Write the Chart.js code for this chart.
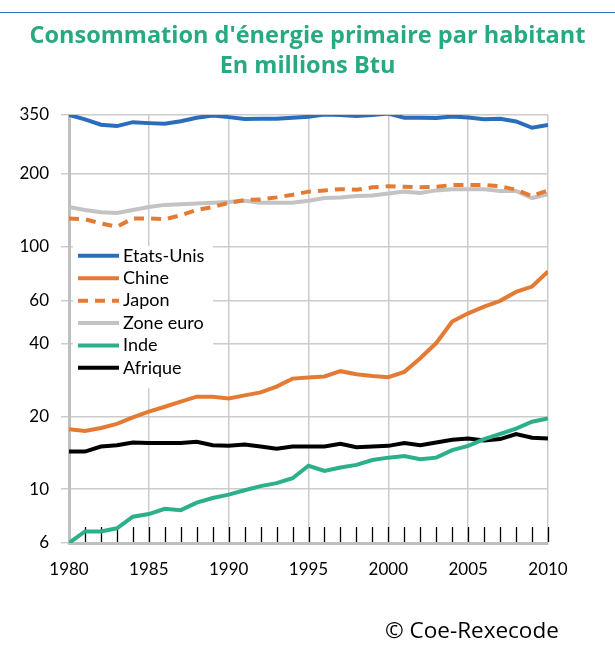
<!DOCTYPE html>
<html>
<head>
<meta charset="utf-8">
<script src="https://cdn.jsdelivr.net/npm/chart.js@4"></script>
<style>
  body { margin: 0; background: #fff; }
  #wrap { position: relative; width: 615px; height: 653px; }
  #topline { position: absolute; left: 0; top: 12px; width: 615px; height: 1px; background: #2f74c0; }
  #title { position: absolute; left: 0; top: 19px; width: 615px; text-align: center;
           font: bold 23.5px "Open Sans", sans-serif; line-height: 30px; color: #27a982; }
  #credit { position: absolute; left: 385px; top: 614px; font: 22.5px "Open Sans", sans-serif; color: #000; }
</style>
</head>
<body>
<div id="wrap">
  <canvas id="chart" width="615" height="653"></canvas>
  <div id="topline"></div>
  <div id="title">Consommation d'énergie primaire par habitant<br>En millions Btu</div>
  <div id="credit">© Coe-Rexecode</div>
</div>
<script>
const years = [1980, 1981, 1982, 1983, 1984, 1985, 1986, 1987, 1988, 1989,
               1990, 1991, 1992, 1993, 1994, 1995, 1996, 1997, 1998, 1999,
               2000, 2001, 2002, 2003, 2004, 2005, 2006, 2007, 2008, 2009, 2010];

const etatsUnis = [350, 336, 319, 315, 327, 324, 322, 330, 341, 348,
                   343, 337, 338, 338, 341, 344, 352, 350, 347, 350,
                   355, 341, 341, 340, 345, 342, 336, 338, 329, 310, 318];
const chine = [17.7, 17.4, 17.9, 18.6, 19.8, 20.9, 21.9, 23.0, 24.1, 24.1,
               23.7, 24.4, 25.1, 26.5, 28.6, 28.9, 29.2, 30.7, 29.8, 29.3,
               29.0, 30.5, 34.7, 40.1, 49.2, 53.2, 56.7, 59.9, 65.2, 68.6, 79.1];
const japon = [131, 130, 125, 121, 131, 131, 130, 135, 142, 146,
               152, 156, 157, 160, 164, 169, 171, 173, 172, 176,
               178, 177, 176, 177, 180, 180, 180, 178, 172, 162, 171];
const zoneEuro = [146, 142, 139, 138, 142, 146, 149, 150, 151, 152,
                  153, 155, 152, 152, 152, 155, 159, 160, 162, 163,
                  166, 169, 167, 171, 173, 173, 173, 170, 170, 159, 165];
const inde = [6.0, 6.7, 6.7, 6.9, 7.7, 7.9, 8.3, 8.2, 8.8, 9.2,
              9.5, 9.9, 10.3, 10.6, 11.1, 12.5, 11.9, 12.3, 12.6, 13.2,
              13.5, 13.7, 13.3, 13.5, 14.5, 15.1, 16.1, 16.9, 17.8, 19.0, 19.6];
const afrique = [14.3, 14.3, 15.0, 15.2, 15.6, 15.5, 15.5, 15.5, 15.7, 15.2,
                 15.1, 15.3, 15.0, 14.7, 15.0, 15.0, 15.0, 15.4, 14.9, 15.0,
                 15.1, 15.5, 15.2, 15.6, 16.0, 16.2, 15.9, 16.1, 16.9, 16.3, 16.2];

const yTicks = [6, 10, 20, 40, 60, 100, 200, 350];

const FONT = 'Lato, "Open Sans", sans-serif';

function series(label, values, color, dash) {
  return {
    label: label,
    data: values.map((v, i) => ({ x: years[i], y: v })),
    borderColor: color,
    backgroundColor: color,
    borderWidth: 4,
    borderDash: dash || [],
    pointRadius: 0,
    tension: 0,
    fill: false
  };
}

// small black year marks standing on the x axis
const yearMarks = {
  id: 'yearMarks',
  beforeDatasetsDraw(chart) {
    const { ctx, chartArea, scales } = chart;
    ctx.save();
    ctx.strokeStyle = '#000';
    ctx.lineWidth = 1.3;
    years.slice(1).forEach(yr => {
      const x = Math.round(scales.x.getPixelForValue(yr)) + 0.5;
      ctx.beginPath();
      ctx.moveTo(x, chartArea.bottom - 16);
      ctx.lineTo(x, chartArea.bottom - 1);
      ctx.stroke();
    });
    ctx.restore();
  }
};

// legend drawn inside the plot, on a white box
const insideLegend = {
  id: 'insideLegend',
  afterDatasetsDraw(chart) {
    const { ctx, chartArea, scales } = chart;
    const x0 = chartArea.left + 4;
    const top = scales.y.getPixelForValue(100) - 1;
    const rowH = 22.4;
    ctx.save();
    ctx.fillStyle = '#fff';
    ctx.fillRect(x0, top, 140, rowH * 6 + 8);
    ctx.font = '18px ' + FONT;
    ctx.textBaseline = 'middle';
    chart.data.datasets.forEach((ds, i) => {
      const cy = top + 10 + i * rowH;
      ctx.strokeStyle = ds.borderColor;
      ctx.lineWidth = 4;
      ctx.setLineDash(ds.borderDash);
      ctx.beginPath();
      ctx.moveTo(x0 + 5, cy);
      ctx.lineTo(x0 + 46, cy);
      ctx.stroke();
      ctx.setLineDash([]);
      ctx.fillStyle = '#000';
      ctx.fillText(ds.label, x0 + 50, cy);
    });
    ctx.restore();
  }
};

new Chart(document.getElementById('chart'), {
  type: 'line',
  data: {
    datasets: [
      series('Etats-Unis', etatsUnis, '#2a6ebb'),
      series('Chine', chine, '#e47b35'),
      series('Japon', japon, '#e47b35', [10, 7]),
      series('Zone euro', zoneEuro, '#c3c3c3'),
      series('Inde', inde, '#2bb08b'),
      series('Afrique', afrique, '#000000')
    ]
  },
  options: {
    responsive: false,
    animation: false,
    layout: { padding: { left: 0, right: 67, top: 115, bottom: 58 } },
    plugins: {
      legend: { display: false },
      tooltip: { enabled: false },
      title: { display: false }
    },
    scales: {
      x: {
        type: 'linear',
        min: 1980,
        max: 2010,
        afterFit(scale) { scale.height = 52; },
        ticks: {
          stepSize: 5,
          color: '#000',
          font: { family: FONT, size: 17 },
          padding: 16,
          maxRotation: 0,
          callback: v => String(v)
        },
        grid: { color: '#cccccc', lineWidth: 1.5, drawTicks: false },
        border: { color: '#bfbfbf', width: 3 }
      },
      y: {
        type: 'logarithmic',
        min: 6,
        max: 350,
        afterFit(scale) { scale.width = 69; },
        afterBuildTicks(scale) { scale.ticks = yTicks.map(v => ({ value: v })); },
        ticks: {
          color: '#000',
          font: { family: FONT, size: 17 },
          padding: 12,
          callback: v => String(v)
        },
        grid: { color: '#cccccc', lineWidth: 1.5, tickLength: 8, tickColor: '#cccccc' },
        border: { color: '#bfbfbf', width: 3 }
      }
    }
  },
  plugins: [yearMarks, insideLegend]
});
</script>
</body>
</html>
